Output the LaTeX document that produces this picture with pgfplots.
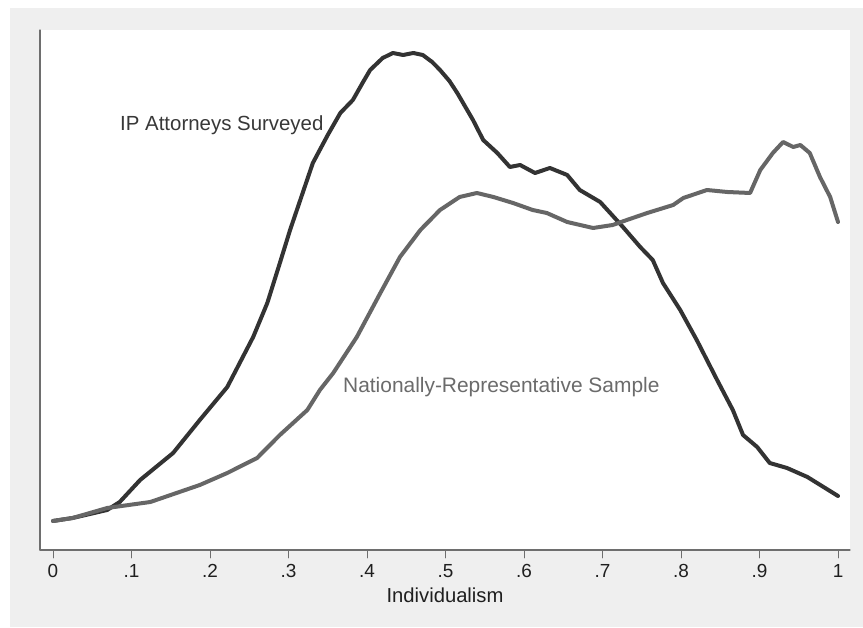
\documentclass[border=0pt]{standalone}
\usepackage{fontspec}
\setmainfont{Liberation Sans}
\usepackage{pgfplots}
\pgfplotsset{compat=1.18}
\definecolor{bggray}{HTML}{EFEFEF}
\definecolor{darkline}{HTML}{333333}
\definecolor{grayline}{HTML}{666666}
\definecolor{axisgray}{HTML}{6E6E6E}
\begin{document}
\begin{tikzpicture}[x=1bp,y=1bp]
\useasboundingbox (0,0) rectangle (863,628);
\fill[white] (0,0) rectangle (863,628);
\fill[bggray] (10,1) rectangle (863,620);
\begin{axis}[
  at={(40bp,78bp)}, anchor=south west,
  scale only axis, width=810bp, height=520bp,
  xmin=-0.01656, xmax=1.01529, ymin=0, ymax=520,
  axis background/.style={fill=white},
  axis x line*=bottom, axis y line*=left,
  axis line style={draw=axisgray, line width=1.2bp},
  ytick=\empty,
  xtick={0,0.1,0.2,0.3,0.4,0.5,0.6,0.7,0.8,0.9,1},
  xticklabels={0,.1,.2,.3,.4,.5,.6,.7,.8,.9,1},
  tick align=outside, major tick length=8bp,
  tick style={draw=axisgray, line width=1bp},
  xticklabel style={font=\fontsize{19}{19}\selectfont, text=black!88, yshift=-3bp},
  xlabel={Individualism},
  xlabel style={font=\fontsize{20.3}{20.3}\selectfont, text=black!88, yshift=-3bp},
  line join=round, line cap=round,
]
\addplot[draw=darkline, line width=4bp] coordinates {
(0,29) (0.025,32) (0.047,36) (0.069,40) (0.085,48) (0.111,70) (0.153,97)
(0.187,130) (0.222,163) (0.255,213) (0.273,247) (0.289,287) (0.302,320)
(0.315,350) (0.331,387) (0.350,415) (0.366,437) (0.382,450) (0.395,468) (0.404,480)
(0.420,492) (0.433,497) (0.446,495) (0.459,497) (0.471,495) (0.483,488) (0.493,480)
(0.505,469) (0.515,457) (0.535,430) (0.548,410)
(0.566,397) (0.582,383) (0.595,385) (0.614,377) (0.633,382) (0.655,375)
(0.671,360) (0.697,348) (0.726,323) (0.748,303) (0.764,290) (0.777,267)
(0.799,240) (0.820,210) (0.846,170) (0.866,140) (0.879,115) (0.897,103)
(0.913,87) (0.935,82) (0.961,73) (1.0,54)
};
\addplot[draw=grayline, line width=4bp] coordinates {
(0,29) (0.025,32) (0.069,42) (0.124,48) (0.187,65) (0.222,77) (0.260,92)
(0.289,115) (0.324,140) (0.340,160) (0.357,177) (0.387,213) (0.417,257)
(0.442,293) (0.468,320) (0.493,340) (0.518,353) (0.540,357) (0.561,353)
(0.586,347) (0.611,340) (0.629,337) (0.655,328) (0.688,322) (0.713,325)
(0.731,330) (0.757,337) (0.790,345) (0.803,352) (0.833,360) (0.859,358)
(0.888,357) (0.901,380) (0.917,397) (0.930,408) (0.943,403) (0.952,405)
(0.964,397) (0.977,373) (0.990,353) (1.0,328)
};
\node[anchor=base west, font=\fontsize{20.5}{20.5}\selectfont, text=black!78, inner sep=0pt]
  at (axis cs:0.0854,419) {IP Attorneys Surveyed};
\node[anchor=base west, font=\fontsize{21}{21}\selectfont, text=black!58, inner sep=0pt]
  at (axis cs:0.3694,157) {Nationally-Representative Sample};
\end{axis}
\end{tikzpicture}
\end{document}
